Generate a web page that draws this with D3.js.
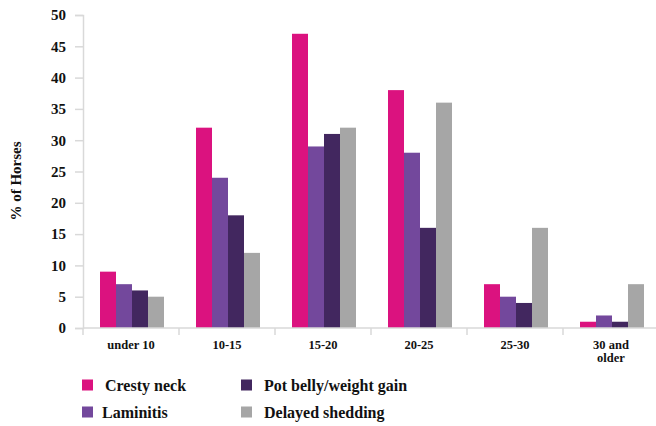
<!DOCTYPE html>
<html>
<head>
<meta charset="utf-8">
<script src="https://cdn.jsdelivr.net/npm/d3@7"></script>
<style>
  html, body { margin: 0; padding: 0; background: #fff; }
  svg { display: block; }
  text { font-family: "Liberation Serif", "Times New Roman", serif; font-weight: bold; fill: #111; }
</style>
</head>
<body>
<svg id="chart" width="656" height="426"></svg>
<script>
// Age groups and the share of horses showing each sign (%)
const categories = ["under 10", "10-15", "15-20", "20-25", "25-30", "30 and older"];
const seriesNames = ["Cresty neck", "Laminitis", "Pot belly/weight gain", "Delayed shedding"];
const crestyNeck   = [9, 32, 47, 38, 7, 1];
const laminitis    = [7, 24, 29, 28, 5, 2];
const potBelly     = [6, 18, 31, 16, 4, 1];
const delayedShed  = [5, 12, 32, 36, 16, 7];
const yTicks = [0, 5, 10, 15, 20, 25, 30, 35, 40, 45, 50];

const seriesValues = [crestyNeck, laminitis, potBelly, delayedShed];
const colors = ["#db127f", "#73489c", "#42275f", "#a6a6a6"];

const svg = d3.select("#chart");
const plotLeft = 83, plotRight = 659, plotTop = 15, plotBottom = 328;

const x = d3.scaleBand().domain(categories).range([plotLeft, plotRight]).paddingInner(0).paddingOuter(0);
const x1 = d3.scaleBand().domain(seriesNames).range([0, x.bandwidth()]).paddingOuter(1).paddingInner(0);
const y = d3.scaleLinear().domain([0, 50]).range([plotBottom, plotTop]);

const axisColor = "#d9d9d9";

// Bars
const groups = svg.append("g").selectAll("g")
  .data(categories)
  .join("g")
  .attr("transform", d => `translate(${x(d) + 1},0)`);

groups.selectAll("rect")
  .data((c, i) => seriesNames.map((s, k) => ({ s, v: seriesValues[k][i], k })))
  .join("rect")
  .attr("x", d => x1(d.s))
  .attr("width", x1.bandwidth())
  .attr("y", d => y(d.v))
  .attr("height", d => y(0) - y(d.v))
  .attr("fill", d => colors[d.k]);

// Y axis
const yAxis = svg.append("g").attr("transform", `translate(${plotLeft},0)`)
  .call(d3.axisLeft(y).tickValues(yTicks).tickSize(8).tickPadding(9));
yAxis.select(".domain").attr("stroke", axisColor).attr("stroke-width", 1.5);
yAxis.selectAll(".tick line").attr("stroke", axisColor).attr("stroke-width", 1.5);
yAxis.selectAll(".tick text").style("font-size", "15px").style("font-family", "Liberation Serif, serif").style("font-weight", "bold").attr("fill", "#111");

// X axis baseline with category separators
svg.append("line")
  .attr("x1", plotLeft).attr("x2", plotRight).attr("y1", plotBottom).attr("y2", plotBottom)
  .attr("stroke", axisColor).attr("stroke-width", 1.5);
const bounds = categories.map(c => x(c)).concat([plotRight]);
svg.append("g").selectAll("line")
  .data(bounds)
  .join("line")
  .attr("x1", d => d).attr("x2", d => d)
  .attr("y1", plotBottom).attr("y2", plotBottom + 7)
  .attr("stroke", axisColor).attr("stroke-width", 1.5);

// Category labels (long ones wrap onto two lines)
const labelLines = { "30 and older": ["30 and", "older"] };
const xl = svg.append("g").selectAll("text")
  .data(categories)
  .join("text")
  .attr("x", d => x(d) + x.bandwidth() / 2)
  .attr("y", 349)
  .attr("text-anchor", "middle")
  .style("font-size", "12.5px");
xl.each(function(d) {
  const lines = labelLines[d] || [d];
  const t = d3.select(this);
  lines.forEach((ln, i) => {
    t.append("tspan").attr("x", x(d) + x.bandwidth() / 2).attr("dy", i === 0 ? 0 : 13).text(ln);
  });
});

// Y axis title
svg.append("text")
  .attr("transform", "translate(21,181) rotate(-90)")
  .attr("text-anchor", "middle")
  .style("font-size", "15px")
  .text("% of Horses");

// Legend
const legendPos = [
  { x: 82, y: 385 }, { x: 82, y: 412 },
  { x: 241, y: 385 }, { x: 241, y: 412 }
];
const leg = svg.append("g").selectAll("g")
  .data(seriesNames)
  .join("g")
  .attr("transform", (d, i) => `translate(${legendPos[i].x},${legendPos[i].y})`);
leg.append("rect")
  .attr("x", 0).attr("y", -5.5).attr("width", 11).attr("height", 11)
  .attr("fill", (d, i) => colors[i]);
leg.append("text")
  .attr("x", (d, i) => i === 1 ? 20 : 23)
  .attr("y", 5.5)
  .style("font-size", "16px")
  .text(d => d);
</script>
</body>
</html>
